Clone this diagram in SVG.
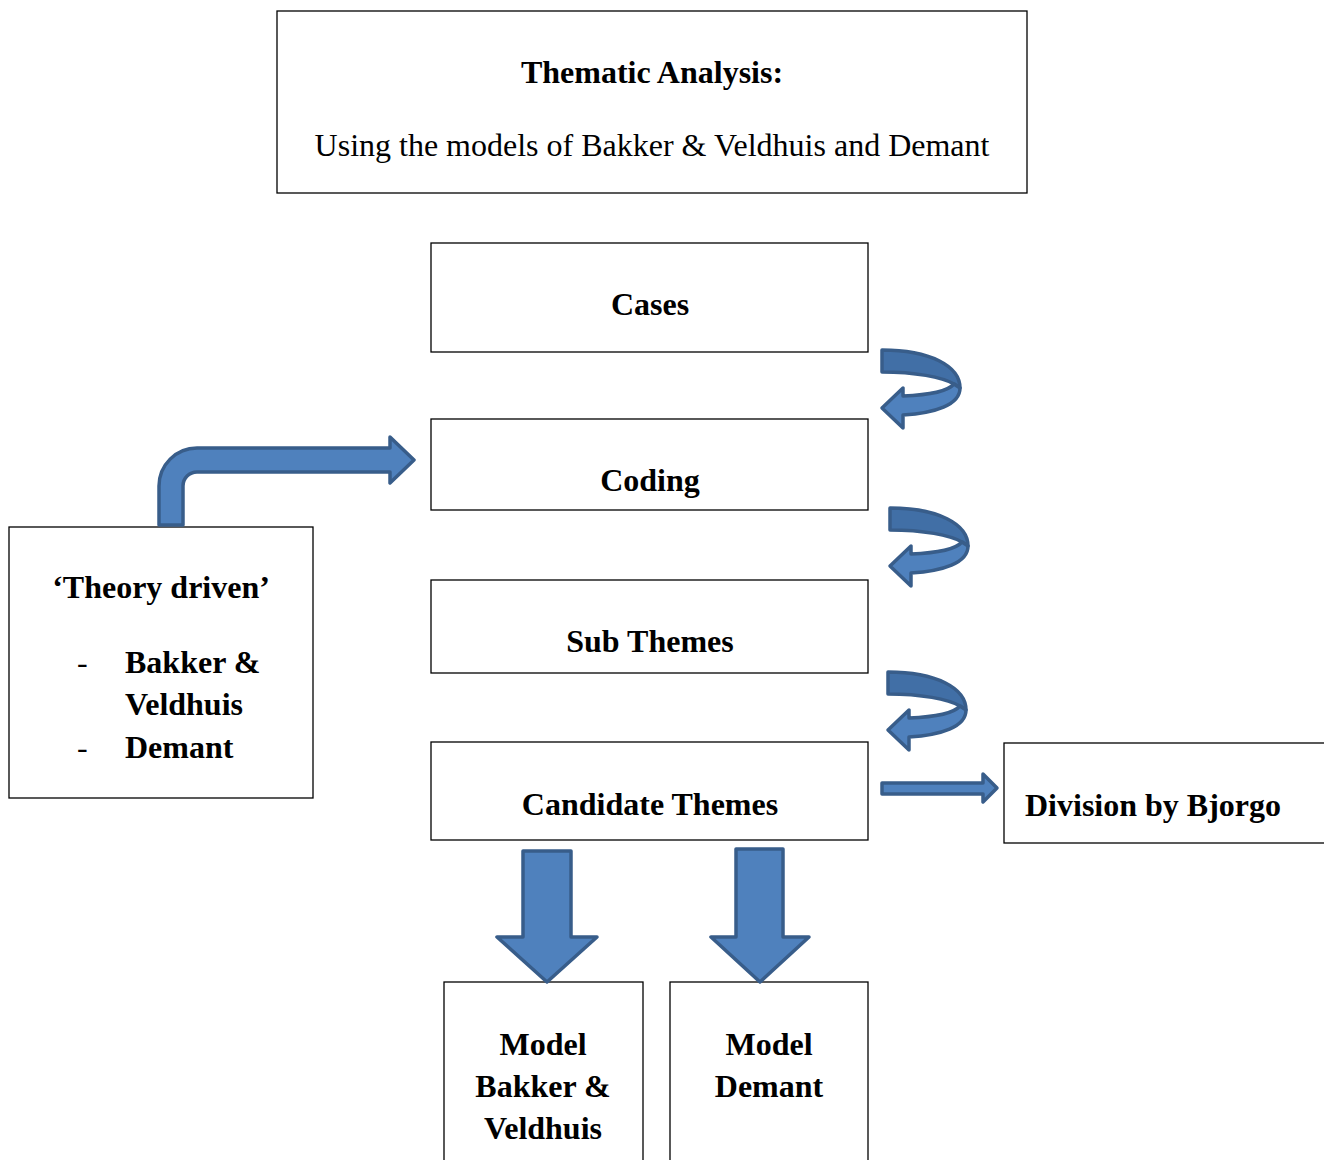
<svg xmlns="http://www.w3.org/2000/svg" xmlns:xlink="http://www.w3.org/1999/xlink" width="1324" height="1160" viewBox="0 0 1324 1160">
<style>
.box{fill:#fff;stroke:#000;stroke-width:1.3}
.t{font-family:"Liberation Serif","Times New Roman",serif;font-size:32px;fill:#000}
.b{font-weight:bold}
.arr{fill:#4F81BD;stroke:#385D8A;stroke-width:3.5;stroke-linejoin:round}
.arrb{fill:#416FA6;stroke:#385D8A;stroke-width:3.5;stroke-linejoin:round}
</style>
<defs>
<g id="uturn">
<path class="arrb" d="M882,350 C930,350 960,366 960,388 L954,384 C942,377 915,372 882,372 Z"/>
<path class="arr" d="M960,388 C960,405 935,413 903,415 L903,428 L882,408 L903,388 L903,396 C930,395 948,391 954,384 Z"/>
</g>
</defs>
<rect width="1324" height="1160" fill="#fff"/>
<g id="title">
<rect class="box" x="277" y="11" width="750" height="182"/>
<text class="t b" x="652" y="83" text-anchor="middle">Thematic Analysis:</text>
<text class="t" x="652" y="156" text-anchor="middle">Using the models of Bakker &amp; Veldhuis and Demant</text>
</g>
<g id="cases">
<rect class="box" x="431" y="243" width="437" height="109"/>
<text class="t b" x="650" y="315" text-anchor="middle">Cases</text>
</g>
<g id="coding">
<rect class="box" x="431" y="419" width="437" height="91"/>
<text class="t b" x="650" y="491" text-anchor="middle">Coding</text>
</g>
<g id="subthemes">
<rect class="box" x="431" y="580" width="437" height="93"/>
<text class="t b" x="650" y="652" text-anchor="middle">Sub Themes</text>
</g>
<g id="candidate">
<rect class="box" x="431" y="742" width="437" height="98"/>
<text class="t b" x="650" y="815" text-anchor="middle">Candidate Themes</text>
</g>
<g id="theory">
<rect class="box" x="9" y="527" width="304" height="271"/>
<text class="t b" x="161" y="598" text-anchor="middle">‘Theory driven’</text>
<text class="t" x="77" y="673">-</text>
<text class="t b" x="125" y="673">Bakker &amp;</text>
<text class="t b" x="125" y="715">Veldhuis</text>
<text class="t" x="77" y="758">-</text>
<text class="t b" x="125" y="758">Demant</text>
</g>
<g id="division">
<rect class="box" x="1004" y="743" width="330" height="100"/>
<text class="t b" x="1025" y="816">Division by Bjorgo</text>
</g>
<g id="modelbv">
<rect class="box" x="444" y="982" width="199" height="190"/>
<text class="t b" x="543" y="1055" text-anchor="middle">Model</text>
<text class="t b" x="543" y="1097" text-anchor="middle">Bakker &amp;</text>
<text class="t b" x="543" y="1139" text-anchor="middle">Veldhuis</text>
</g>
<g id="modeldemant">
<rect class="box" x="670" y="982" width="198" height="190"/>
<text class="t b" x="769" y="1055" text-anchor="middle">Model</text>
<text class="t b" x="769" y="1097" text-anchor="middle">Demant</text>
</g>
<g id="connectors">
<use xlink:href="#uturn"/>
<use xlink:href="#uturn" transform="translate(8,158)"/>
<use xlink:href="#uturn" transform="translate(6,322)"/>
<path class="arr" d="M159,525 L159,486 A38,38 0 0 1 197,448 L390,448 L390,437 L414,460 L390,483 L390,472 L197,472 A14,14 0 0 0 183,486 L183,525 Z"/>
<path class="arr" d="M523,851 L571,851 L571,937 L597,937 L547,982 L497,937 L523,937 Z"/>
<path class="arr" d="M736,849 L783,849 L783,937 L809,937 L760,982 L711,937 L736,937 Z"/>
<path class="arr" d="M882,783 L983,783 L983,774 L997,788 L983,802 L983,794 L882,794 Z"/>
</g>
</svg>
